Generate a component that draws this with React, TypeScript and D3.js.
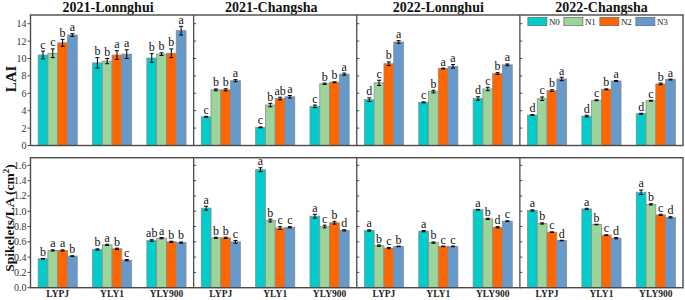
import React from "react";
import * as d3 from "d3";

const sites = ["2021-Lonnghui", "2021-Changsha", "2022-Lonnghui", "2022-Changsha"];
const cultivars = ["LYPJ", "YLY1", "YLY900"];
const treatments = ["N0", "N1", "N2", "N3"];
const colors = ["#00CCCC", "#9BD59B", "#FF6600", "#6699CC"];

// LAI (top row), per site: [cultivar][treatment]
const lai2021L = [[10.4, 10.6, 11.8, 12.7], [9.5, 9.7, 10.4, 10.5], [10.05, 10.5, 10.6, 13.2]];
const lai2021C = [[3.3, 6.4, 6.4, 7.45], [2.08, 4.65, 5.4, 5.6], [4.5, 7.1, 7.27, 8.2]];
const lai2022L = [[5.27, 7.2, 9.4, 11.9], [4.96, 6.2, 8.85, 9.1], [5.4, 6.5, 8.27, 9.27]];
const lai2022C = [[3.5, 5.38, 6.3, 7.65], [3.38, 5.2, 6.46, 7.42], [3.65, 5.15, 7.08, 7.58]];
const laiErr2021L = [[0.45, 0.5, 0.4, 0.15], [0.6, 0.3, 0.5, 0.5], [0.5, 0.15, 0.5, 0.5]];
const laiErr2021C = [[0.05, 0.1, 0.12, 0.12], [0.05, 0.2, 0.15, 0.15], [0.15, 0.08, 0.05, 0.12]];
const laiErr2022L = [[0.2, 0.3, 0.2, 0.15], [0.05, 0.15, 0.05, 0.2], [0.2, 0.2, 0.1, 0.1]];
const laiErr2022C = [[0.05, 0.2, 0.1, 0.2], [0.1, 0.05, 0.05, 0.05], [0.05, 0.05, 0.1, 0.05]];
const laiLet2021L = [["c", "c", "b", "a"], ["b", "b", "a", "a"], ["b", "b", "b", "a"]];
const laiLet2021C = [["c", "b", "b", "a"], ["c", "b", "ab", "a"], ["c", "b", "b", "a"]];
const laiLet2022L = [["d", "c", "b", "a"], ["c", "b", "a", "a"], ["d", "c", "b", "a"]];
const laiLet2022C = [["d", "c", "b", "a"], ["d", "c", "b", "a"], ["d", "c", "b", "a"]];

// Spikelets/LA (bottom row)
const spk2021L = [[0.378, 0.487, 0.487, 0.413], [0.5, 0.56, 0.509, 0.36], [0.617, 0.648, 0.6, 0.59]];
const spk2021C = [[1.04, 0.652, 0.652, 0.6], [1.543, 0.878, 0.78, 0.79], [0.935, 0.8, 0.85, 0.75]];
const spk2022L = [[0.748, 0.55, 0.517, 0.54], [0.74, 0.59, 0.54, 0.54], [1.02, 0.9, 0.79, 0.87]];
const spk2022C = [[1.01, 0.84, 0.726, 0.617], [1.03, 0.826, 0.687, 0.648], [1.248, 1.09, 0.952, 0.92]];
const spkErr2021L = [[0.004, 0.008, 0.008, 0.004], [0.008, 0.008, 0.008, 0.008], [0.01, 0.008, 0.008, 0.008]];
const spkErr2021C = [[0.025, 0.008, 0.008, 0.018], [0.025, 0.018, 0.018, 0.008], [0.025, 0.018, 0.018, 0.008]];
const spkErr2022L = [[0.008, 0.008, 0.008, 0.004], [0.008, 0.008, 0.004, 0.004], [0.004, 0.008, 0.008, 0.004]];
const spkErr2022C = [[0.008, 0.008, 0.004, 0.004], [0.008, 0.004, 0.004, 0.008], [0.03, 0.008, 0.008, 0.008]];
const spkLet2021L = [["b", "a", "a", "b"], ["b", "a", "b", "c"], ["ab", "a", "b", "b"]];
const spkLet2021C = [["a", "b", "b", "c"], ["a", "b", "c", "c"], ["a", "c", "b", "d"]];
const spkLet2022L = [["a", "b", "c", "b"], ["a", "b", "c", "c"], ["a", "b", "d", "c"]];
const spkLet2022C = [["a", "b", "c", "d"], ["a", "b", "c", "d"], ["a", "b", "c", "d"]];

const laiTicks = [0, 2, 4, 6, 8, 10, 12, 14];
const spkTicks = [0, 0.2, 0.4, 0.6, 0.8, 1.0, 1.2, 1.4, 1.6];

const FONT = "Liberation Serif, Times New Roman, serif";
const W = 685;
const H = 300;
const LEFT = 30.5;
const RIGHT = 683;
const FRAME = "#4a4a4a";

type RowProps = {
  top: number;
  bottom: number;
  max: number;
  ticks: number[];
  fmt: (v: number) => string;
  values: number[][][];
  errs: number[][][];
  letters: string[][][];
  showX: boolean;
  legend: boolean;
};

function Row(p: RowProps) {
  const y = d3.scaleLinear().domain([0, p.max]).range([p.bottom, p.top]);
  const panel = d3.scaleBand<string>().domain(sites).range([LEFT, RIGHT]);
  const pw = panel.bandwidth();
  const xc = d3.scaleBand<string>().domain(cultivars).range([0, pw]).paddingInner(0.28).paddingOuter(0.14);
  const xt = d3.scaleBand<string>().domain(treatments).range([0, xc.bandwidth()]);
  const bw = xt.bandwidth();
  const els: React.ReactNode[] = [];

  sites.forEach((s, si) => {
    const px = panel(s)!;
    cultivars.forEach((c, ci) => {
      treatments.forEach((t, ti) => {
        const v = p.values[si][ci][ti];
        const e = p.errs[si][ci][ti];
        const x = px + xc(c)! + xt(t)!;
        const cx = x + bw / 2;
        els.push(
          <rect key={`b${si}${ci}${ti}`} x={x} y={y(v)} width={bw} height={p.bottom - y(v)}
            fill={colors[ti]} stroke="#8c8c8c" strokeWidth={0.8} />
        );
        const y1 = y(v + e);
        const y0 = y(v - e);
        els.push(
          <g key={`e${si}${ci}${ti}`} stroke="#000" strokeWidth={1}>
            <line x1={cx} x2={cx} y1={y1} y2={y0} />
            <line x1={cx - 2} x2={cx + 2} y1={y1} y2={y1} />
            <line x1={cx - 2} x2={cx + 2} y1={y0} y2={y0} />
          </g>
        );
        els.push(
          <text key={`l${si}${ci}${ti}`} x={cx} y={y1 - 2.5} textAnchor="middle" fontSize={12}
            fontFamily={FONT} fill="#111">{p.letters[si][ci][ti]}</text>
        );
      });
      if (p.showX) {
        els.push(
          <text key={`x${si}${ci}`} x={px + xc(c)! + xc.bandwidth() / 2} y={297} textAnchor="middle"
            fontSize={9.5} fontWeight="bold" fontFamily={FONT} fill="#222">{c}</text>
        );
      }
    });
    if (si > 0) {
      p.ticks.forEach((tv, k) => {
        els.push(<line key={`it${si}${k}`} x1={px} x2={px + 2.5} y1={y(tv)} y2={y(tv)} stroke={FRAME} strokeWidth={1} />);
      });
      els.push(<line key={`d${si}`} x1={px} x2={px} y1={p.top} y2={p.bottom} stroke={FRAME} strokeWidth={1.3} />);
    }
    if (!p.showX) {
      els.push(
        <text key={`t${si}`} x={px + pw / 2 - (si < 2 ? 4 : 0)} y={11.5} textAnchor="middle" fontSize={14}
          fontWeight="bold" fontFamily={FONT} fill="#111">{s}</text>
      );
    }
  });

  p.ticks.forEach((tv, k) => {
    els.push(<line key={`lt${k}`} x1={LEFT - 3} x2={LEFT} y1={y(tv)} y2={y(tv)} stroke={FRAME} strokeWidth={1} />);
    els.push(
      <text key={`ll${k}`} x={LEFT - 4} y={y(tv) + 3.5} textAnchor="end" fontSize={10} fontFamily={FONT} fill="#333">
        {p.fmt(tv)}
      </text>
    );
  });

  els.push(
    <rect key="frame" x={LEFT} y={p.top} width={RIGHT - LEFT} height={p.bottom - p.top} fill="none"
      stroke={FRAME} strokeWidth={1.4} />
  );

  if (p.legend) {
    const lx = panel(sites[3])! + 8;
    treatments.forEach((t, ti) => {
      const bx = lx + ti * 36;
      els.push(<rect key={`lg${ti}`} x={bx} y={17.3} width={19} height={8.4} fill={colors[ti]} stroke="#666" strokeWidth={0.7} />);
      els.push(<text key={`lgt${ti}`} x={bx + 21} y={25} fontSize={9} fontFamily={FONT} fill="#222">{t}</text>);
    });
  }

  return <g>{els}</g>;
}

export default function App() {
  const laiVals = [lai2021L, lai2021C, lai2022L, lai2022C];
  const laiErrs = [laiErr2021L, laiErr2021C, laiErr2022L, laiErr2022C];
  const laiLets = [laiLet2021L, laiLet2021C, laiLet2022L, laiLet2022C];
  const spkVals = [spk2021L, spk2021C, spk2022L, spk2022C];
  const spkErrs = [spkErr2021L, spkErr2021C, spkErr2022L, spkErr2022C];
  const spkLets = [spkLet2021L, spkLet2021C, spkLet2022L, spkLet2022C];
  return (
    <svg width={W} height={H} viewBox={`0 0 ${W} ${H}`}
      style={{ position: "absolute", left: 0, top: 0, background: "#fff" }}>
      <rect x={0} y={0} width={W} height={H} fill="#fff" />
      <Row top={15} bottom={145.5} max={15} ticks={laiTicks} fmt={(v) => String(v)}
        values={laiVals} errs={laiErrs} letters={laiLets} showX={false} legend={true} />
      <Row top={157.7} bottom={287.7} max={1.7} ticks={spkTicks} fmt={(v) => v.toFixed(1)}
        values={spkVals} errs={spkErrs} letters={spkLets} showX={true} legend={false} />
      <text transform="translate(15.5,79) rotate(-90)" textAnchor="middle" fontSize={15} fontWeight="bold"
        fontFamily={FONT} fill="#111">LAI</text>
      <text transform="translate(14,218) rotate(-90)" textAnchor="middle" fontSize={13.5} fontWeight="bold"
        fontFamily={FONT} fill="#111">
        Spikelets/LA (cm<tspan dy={-5} fontSize={9}>2</tspan><tspan dy={5}>)</tspan>
      </text>
    </svg>
  );
}
